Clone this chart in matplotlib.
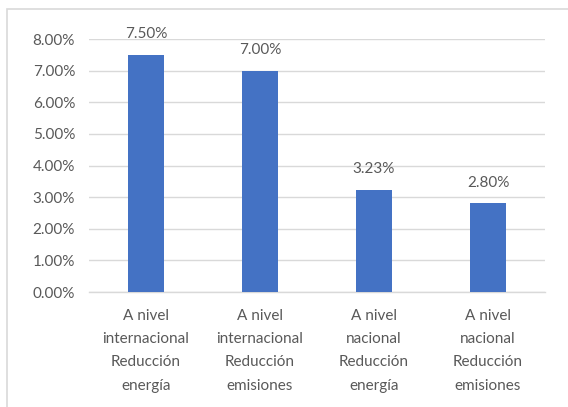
import matplotlib
matplotlib.use("Agg")
from matplotlib import pyplot as plt
from matplotlib.patches import Rectangle
from matplotlib.ticker import PercentFormatter

categories = [
    "A nivel\ninternacional\nReducción\nenergía",
    "A nivel\ninternacional\nReducción\nemisiones",
    "A nivel\nnacional\nReducción\nenergía",
    "A nivel\nnacional\nReducción\nemisiones",
]
values = [0.075, 0.070, 0.0323, 0.028]
yticks = [0.00, 0.01, 0.02, 0.03, 0.04, 0.05, 0.06, 0.07, 0.08]

BAR = "#4472C4"
TXT = "#595959"
GRID = "#D9D9D9"

plt.rcParams['font.family'] = ['Lato', 'DejaVu Sans']

fig = plt.figure(figsize=(5.68, 4.07), dpi=100)
ax = fig.add_axes([89 / 568, 1 - 292 / 407, 456 / 568, 253 / 407])

x = range(len(values))
bars = ax.bar(x, values, width=0.31, color=BAR, zorder=3)

for b, v in zip(bars, values):
    ax.annotate(f"{v * 100:.2f}%", (b.get_x() + b.get_width() / 2, v),
                xytext=(0, 10), textcoords="offset points",
                ha="center", va="bottom", fontsize=11, color=TXT)

ax.set_xlim(-0.5, len(values) - 0.5)
ax.set_ylim(0, 0.08)
ax.set_yticks(yticks)
ax.yaxis.set_major_formatter(PercentFormatter(1.0, decimals=2))
ax.set_xticks(list(x))
ax.set_xticklabels(categories, fontsize=11, color=TXT, linespacing=1.85)
ax.tick_params(axis="y", labelsize=11, labelcolor=TXT, length=0, pad=10)
ax.tick_params(axis="x", length=0, pad=12)
ax.grid(axis="y", color=GRID, linewidth=1, zorder=0)
for side in ("top", "right", "left"):
    ax.spines[side].set_visible(False)
ax.spines["bottom"].set_color(GRID)
ax.spines["bottom"].set_linewidth(1)

# outer chart frame, open on the right and bottom
fig.patches.append(Rectangle((7 / 568, -0.05), 1.2, 1 - 9 / 407 + 0.05,
                             transform=fig.transFigure, fill=False,
                             edgecolor=GRID, linewidth=1.2))

fig.savefig("out.png", dpi=100)
